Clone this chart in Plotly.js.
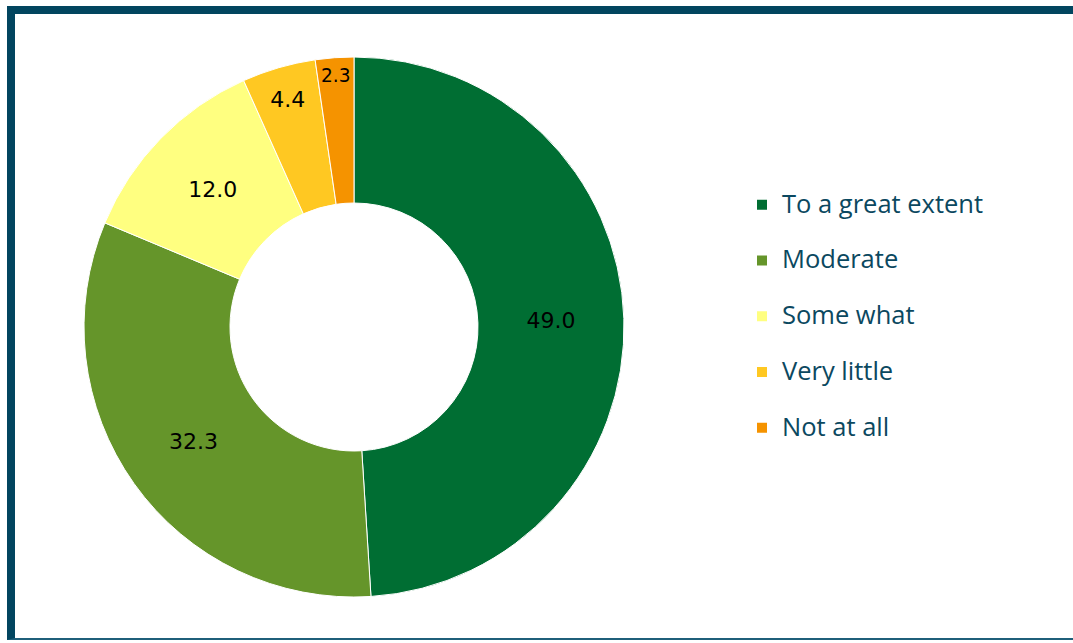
<!DOCTYPE html>
<html>
<head>
<meta charset="utf-8">
<script src="https://cdn.plot.ly/plotly-3.0.1.min.js"></script>
<style>
html,body{margin:0;padding:0;background:#fff;}
#wrap{position:relative;width:1073px;height:643px;overflow:hidden;}
#chart{position:absolute;left:0;top:0;width:1073px;height:643px;}
#frame{position:absolute;left:7px;top:6px;width:1100px;height:634px;border-left:8px solid #02455f;border-top:8px solid #02455f;border-bottom:2px solid #1f5f7a;pointer-events:none;box-sizing:border-box;}
</style>
</head>
<body>
<div id="wrap"><div id="chart"></div><div id="frame"></div></div>
<script>
const categories = ["To a great extent", "Moderate", "Some what", "Very little", "Not at all"];
const values = [49.0, 32.3, 12.0, 4.4, 2.3];
const colors = ["#006E33", "#65952A", "#FFFF80", "#FFC822", "#F59300"];

const W = 1073, H = 643;
const cx = 354, cy = 327, R = 270, r = 124;

const trace = {
  type: "pie",
  labels: categories.map(c => '<span style="font-size:25.5px">' + c + '</span><br> '),
  values: values,
  text: values.map(v => v.toFixed(1)),
  textinfo: "text",
  textposition: "inside",
  insidetextorientation: "horizontal",
  insidetextfont: {family: "DejaVu Sans", size: 22, color: "#000"},
  sort: false,
  direction: "clockwise",
  rotation: 0,
  hole: r / R,
  marker: {colors: colors, line: {color: "#ffffff", width: 1}},
  domain: {x: [(cx - R) / W, (cx + R) / W], y: [(H - cy - R) / H, (H - cy + R) / H]},
  hoverinfo: "value"
};

const layout = {
  width: W, height: H,
  margin: {l: 0, r: 0, t: 0, b: 0},
  paper_bgcolor: "#ffffff",
  showlegend: true,
  legend: {
    x: 742 / W, y: (H - 185) / H, xanchor: "left", yanchor: "top",
    font: {family: "Open Sans", size: 20.3, color: "#0b4860"},
    valign: "top",
    itemsizing: "constant",
    bgcolor: "rgba(0,0,0,0)"
  }
};

Plotly.newPlot("chart", [trace], layout, {displayModeBar: false, staticPlot: true});
</script>
</body>
</html>
